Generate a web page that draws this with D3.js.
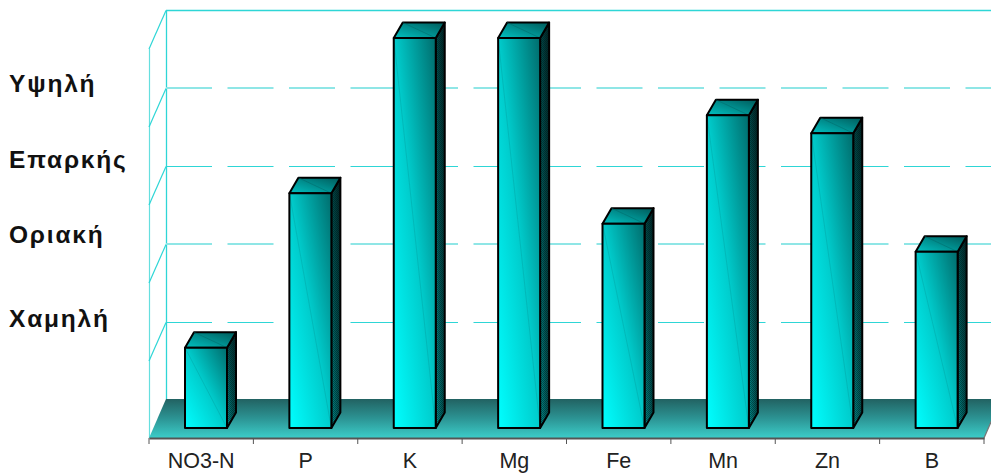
<!DOCTYPE html>
<html lang="el">
<head>
<meta charset="utf-8">
<title>Επίπεδα θρεπτικών στοιχείων</title>
<script src="https://cdn.jsdelivr.net/npm/d3@7"></script>
<style>
  html, body { margin: 0; padding: 0; background: #fff; }
  svg { display: block; }
  text { font-family: "Liberation Sans", Arial, sans-serif; }
</style>
</head>
<body>
<svg id="chart" width="991" height="473"></svg>
<script>
// Nutrient levels shown as 3D columns on a five-step scale
const nutrients = ["NO3-N", "P", "K", "Mg", "Fe", "Mn", "Zn", "B"];
const levels = [1.03, 3.01, 5, 5, 2.62, 4.01, 3.78, 2.26];
const gridSteps = [1, 2, 3, 4, 5];
const ratingNames = ["Χαμηλή", "Οριακή", "Επαρκής", "Υψηλή"];
const ratingSteps = [0.94, 2.02, 2.98, 3.955];

const W = 991, H = 473;
const plot = { left: 149, right: 984, wallDx: 17, wallDy: 38.5 };
const barDepth = { dx: 9, dy: -15.5 };
const barWidth = 42, barShift = 36;

const svg = d3.select("#chart");
const defs = svg.append("defs");

// Scales: the rear wall and the bar fronts sit at different depths
const x = d3.scaleBand().domain(nutrients).range([plot.left, plot.right]);
const yWall = d3.scaleLinear().domain([0, 5]).range([400.5, 10.5]);
const yFront = d3.scaleLinear().domain([0, 5]).range([428, 38]);
const floorBack = 399, floorFront = 438;

function gradient(id, x1, y1, x2, y2, stops) {
  const g = defs.append("linearGradient").attr("id", id)
    .attr("x1", x1).attr("y1", y1).attr("x2", x2).attr("y2", y2);
  stops.forEach(([o, c]) => g.append("stop").attr("offset", o).attr("stop-color", c));
}
gradient("faceFront", 0, 1, 1, 0, [[0, "#00ffff"], [0.5, "#00cccc"], [1, "#006c6c"]]);
gradient("faceTop", 0, 1, 1, 0, [[0, "#00c2c2"], [1, "#005a5a"]]);
gradient("faceSide", 0, 1, 1, 0, [[0, "#009090"], [0.45, "#005252"], [1, "#002020"]]);
gradient("floorFill", 0, 0, 0, 1, [[0, "#226262"], [0.5, "#2c9494"], [1, "#3ccdc9"]]);

// Checker overlay that gives the side faces their speckled look
const speckle = defs.append("pattern").attr("id", "speckle")
  .attr("width", 2).attr("height", 2).attr("patternUnits", "userSpaceOnUse");
speckle.append("rect").attr("width", 1).attr("height", 1).attr("fill", "#001414").attr("opacity", 0.45);
speckle.append("rect").attr("x", 1).attr("y", 1).attr("width", 1).attr("height", 1).attr("fill", "#001414").attr("opacity", 0.45);

// Rear wall and left wall
const wallColor = "#2ed6d6";
const wall = svg.append("g").attr("fill", "none");
wall.append("line").attr("x1", plot.left + 0.5).attr("x2", plot.left + 0.5)
  .attr("y1", yWall(5) + plot.wallDy).attr("y2", floorFront)
  .attr("stroke", "#66dfdf").attr("stroke-width", 1.2);
wall.append("line").attr("x1", plot.left + plot.wallDx + 0.5).attr("x2", plot.left + plot.wallDx + 0.5)
  .attr("y1", yWall(5)).attr("y2", floorBack)
  .attr("stroke", wallColor).attr("stroke-width", 1.3);

wall.selectAll("line.slant").data(gridSteps).join("line").attr("class", "slant")
  .attr("x1", plot.left + plot.wallDx).attr("y1", d => yWall(d))
  .attr("x2", plot.left).attr("y2", d => yWall(d) + plot.wallDy)
  .attr("stroke", wallColor).attr("stroke-width", 1.2);

// Even steps land between two pixel rows and read as wider, paler lines
wall.selectAll("line.grid").data(gridSteps).join("line").attr("class", "grid")
  .attr("x1", plot.left + plot.wallDx).attr("x2", W)
  .attr("y1", d => d % 2 ? yWall(d) : yWall(d) - 0.5)
  .attr("y2", d => d % 2 ? yWall(d) : yWall(d) - 0.5)
  .attr("stroke", d => d % 2 ? wallColor : "#8fe6e6")
  .attr("stroke-width", d => d === 5 ? 1.4 : (d % 2 ? 1 : 2))
  .attr("stroke-dasharray", d => d === 5 ? null : "46 15.5");

// Floor
svg.append("polygon")
  .attr("points", [
    [plot.left + plot.wallDx, floorBack],
    [plot.right + plot.wallDx, floorBack],
    [plot.right, floorFront],
    [plot.left, floorFront]
  ].join(" "))
  .attr("fill", "url(#floorFill)");

svg.append("line")
  .attr("x1", plot.right).attr("y1", floorFront)
  .attr("x2", plot.right + plot.wallDx).attr("y2", floorBack)
  .attr("stroke", "#777").attr("stroke-width", 1.2);

// Columns
const rows = nutrients.map((name, i) => ({ name, value: levels[i] }));
const bars = svg.append("g").selectAll("g").data(rows).join("g");
const outline = s => s.attr("stroke", "#000").attr("stroke-width", 2).attr("stroke-linejoin", "round");
const left = d => x(d.name) + barShift;
const right = d => left(d) + barWidth;
const poly = pts => pts.map(p => p.join(",")).join(" ");
const sidePoints = d => poly([
  [right(d), yFront(d.value)],
  [right(d) + barDepth.dx, yFront(d.value) + barDepth.dy],
  [right(d) + barDepth.dx, yFront(0) + barDepth.dy],
  [right(d), yFront(0)]
]);

bars.append("polygon").attr("points", sidePoints).attr("fill", "url(#faceSide)");
bars.append("polygon").attr("points", sidePoints).attr("fill", "url(#speckle)").call(outline);

bars.append("polygon")
  .attr("points", d => poly([
    [left(d), yFront(d.value)],
    [left(d) + barDepth.dx, yFront(d.value) + barDepth.dy],
    [right(d) + barDepth.dx, yFront(d.value) + barDepth.dy],
    [right(d), yFront(d.value)]
  ]))
  .attr("fill", "url(#faceTop)").call(outline);

// Faint seam across the top face
bars.append("line")
  .attr("x1", d => left(d) + barDepth.dx).attr("y1", d => yFront(d.value) + barDepth.dy)
  .attr("x2", right).attr("y2", d => yFront(d.value))
  .attr("stroke", "#006868").attr("stroke-width", 0.7).attr("opacity", 0.7);

bars.append("rect")
  .attr("x", left).attr("y", d => yFront(d.value))
  .attr("width", barWidth).attr("height", d => yFront(0) - yFront(d.value))
  .attr("fill", "url(#faceFront)");

// Faint seam across the front face
bars.append("line")
  .attr("x1", left).attr("y1", d => yFront(d.value))
  .attr("x2", right).attr("y2", yFront(0))
  .attr("stroke", "#009c9c").attr("stroke-width", 0.7).attr("opacity", 0.55);

bars.append("rect")
  .attr("x", left).attr("y", d => yFront(d.value))
  .attr("width", barWidth).attr("height", d => yFront(0) - yFront(d.value))
  .attr("fill", "none").call(outline);

// Category axis: labels come from the band scale, ticks mark the band edges
const axis = svg.append("g").attr("transform", `translate(0,${floorFront})`);
axis.call(d3.axisBottom(x).tickSize(0).tickPadding(15));
axis.select(".domain").attr("stroke", "#555").attr("stroke-width", 2);
axis.selectAll(".tick text")
  .attr("font-family", "Liberation Sans, Arial, sans-serif")
  .attr("font-size", 21.5).attr("fill", "#222");
axis.selectAll("line.edge")
  .data(nutrients.map(n => x(n)).concat(plot.right))
  .join("line").attr("class", "edge")
  .attr("x1", d => d).attr("x2", d => d).attr("y1", 0).attr("y2", 6)
  .attr("stroke", "#555");

// Rating names down the left side, placed against the wall scale
svg.append("g").selectAll("text").data(ratingNames).join("text")
  .attr("x", 9)
  .attr("y", (d, i) => yWall(ratingSteps[i]))
  .attr("font-size", 24.5).attr("font-weight", "bold").attr("fill", "#111")
  .attr("letter-spacing", 1.8)
  .text(d => d);
</script>
</body>
</html>
